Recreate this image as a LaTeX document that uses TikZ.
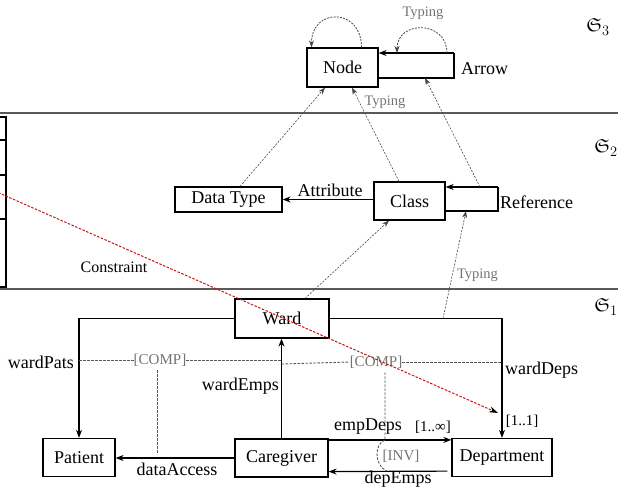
\documentclass[tikz,border=0pt]{standalone}
\usepackage{fontspec}
\setmainfont{Liberation Serif}
\usepackage{amssymb}
\usetikzlibrary{arrows.meta}

\definecolor{sepgray}{RGB}{90,90,90}
\definecolor{labgray}{RGB}{115,115,115}
\definecolor{typgray}{RGB}{70,70,70}
\definecolor{conred}{RGB}{200,20,20}

\tikzset{
  box/.style={draw, line width=1.2pt, inner sep=0pt, font=\fontsize{18}{20}\selectfont},
  lbl/.style={inner sep=0pt, font=\fontsize{18}{20}\selectfont},
  smalllbl/.style={inner sep=0pt, font=\fontsize{16}{18}\selectfont},
  mult/.style={inner sep=0pt, font=\fontsize{15}{17}\selectfont},
  graylbl/.style={inner sep=0pt, text=labgray, font=\fontsize{15}{17}\selectfont},
  typlbl/.style={inner sep=0pt, text=labgray, font=\fontsize{14.5}{16}\selectfont},
  lvl/.style={inner sep=0pt, font=\fontsize{19}{22}\selectfont},
  rel/.style={line width=1.2pt, -{Stealth[length=8pt,width=6pt]}},
  edgeline/.style={line width=1.5pt},
  edgerel/.style={line width=1.5pt, -{Stealth[length=8pt,width=6pt]}},
  typing/.style={line width=0.6pt, draw=typgray, dash pattern=on 2pt off 1.4pt,
                 -{Stealth[length=7pt,width=5pt]}},
  selfloop/.style={line width=0.8pt, draw=typgray, dash pattern=on 2pt off 1.2pt,
                   -{Stealth[length=7pt,width=5pt]}},
  compline/.style={line width=0.9pt, draw=black!65, dash pattern=on 2.5pt off 1.5pt},
  constraint/.style={line width=1pt, draw=conred, dash pattern=on 2.5pt off 1.5pt,
                     -{Stealth[length=9pt,width=6pt,color=black]}},
  layersep/.style={line width=2pt, draw=sepgray}
}

\begin{document}
\begin{tikzpicture}[x=1pt,y=-1pt]
\useasboundingbox (0,0) rectangle (618,489);

% layer separators
\draw[layersep] (0,113) -- (618,113);
\draw[layersep] (0,289) -- (618,289);

% layer names
\node[lvl] (s3) at (598,27) {$\mathfrak{S}_3$};
\node[lvl] (s2) at (606,148) {$\mathfrak{S}_2$};
\node[lvl] (s1) at (606,307) {$\mathfrak{S}_1$};

% ---------- top layer ----------
\node[box, minimum width=71, minimum height=39] (node) at (342.5,67.5) {Node};
\coordinate (arrNE) at (454,53);
\coordinate (arrSE) at (454,78);
\draw[edgeline] (node.east |- arrSE) -- (arrSE) -- (arrNE);
\draw[edgerel] (arrNE) -- (node.east |- arrNE);
\node[lbl, anchor=west] (arrowlbl) at (461,69) {Arrow};

\draw[selfloop] ([xshift=19]node.north) .. controls +(0,-40) and +(0,-40) .. ([xshift=-31]node.north);
\draw[selfloop] ([xshift=-7]arrNE) .. controls +(0,-33) and +(0,-33) .. ([xshift=-57]arrNE);
\node[typlbl] (typ3) at (423,13.5) {Typing};

% ---------- middle layer ----------
\node[box, minimum width=107, minimum height=25] (dtype) at (228.5,199.5) {Data Type};
\node[box, minimum width=71, minimum height=38] (class) at (409.5,201) {Class};
\coordinate (refNE) at (498,187);
\coordinate (refSE) at (498,211);
\draw[edgeline] (class.east |- refSE) -- (refSE) -- (refNE);
\draw[edgerel] (refNE) -- (class.east |- refNE);
\node[lbl, anchor=west] (reflbl) at (500,202) {Reference};

\draw[rel] (class.west |- dtype.east) -- (dtype.east);
\node[lbl] (attrlbl) at (330,190) {Attribute};

% typing of the middle layer
\draw[typing] ([xshift=11.5]dtype.north) -- ([xshift=-17.5]node.south);
\draw[typing] ([xshift=-10.5]class.north) -- ([xshift=9.5]node.south);
\draw[typing] ([xshift=-18]refNE) -- ([xshift=-29]arrSE);
\node[typlbl] (typ2) at (385,102) {Typing};

% constraint table at the left border
\node[draw, line width=1.2pt, minimum width=70, minimum height=170, inner sep=0pt] (ctab) at (-29,202) {};
\draw[line width=1.2pt] (ctab.west |- 0,140) -- (ctab.east |- 0,140);
\draw[line width=1.2pt] (ctab.west |- 0,175) -- (ctab.east |- 0,175);
\draw[line width=1.2pt] (ctab.west |- 0,219) -- (ctab.east |- 0,219);
\node[smalllbl] (conlbl) at (114,267) {Constraint};

% ---------- bottom layer ----------
\node[box, minimum width=94, minimum height=39] (ward) at (282,318.5) {Ward};
\node[box, minimum width=72, minimum height=38] (patient) at (79,457.5) {Patient};
\node[box, minimum width=93, minimum height=38] (caregiver) at (281.5,458) {Caregiver};
\node[box, minimum width=100, minimum height=38] (department) at (502,457.5) {Department};

\draw[rel] (ward.west) -| (patient.north);
\draw[rel] (ward.east) -| (department.north);
\draw[rel] (caregiver.north) -- (caregiver.north |- ward.south);
\draw[rel] (caregiver.west) -- (caregiver.west -| patient.east);
\draw[rel] ([yshift=-1.5]caregiver.north east) -- ([yshift=-1.5]caregiver.north east -| department.west);
\draw[rel] ([xshift=-4,yshift=6]department.south west) -- ([yshift=6]caregiver.south east);

\node[lbl, anchor=east] (wpats) at (74,362) {wardPats};
\node[lbl, anchor=east] (wemps) at (279,386) {wardEmps};
\node[lbl, anchor=west] (wdeps) at (505,370) {wardDeps};
\node[lbl] (daccess) at (177,469) {dataAccess};
\node[lbl] (edeps) at (368,427) {empDeps};
\node[lbl] (demps) at (398,479) {depEmps};
\node[mult] (multinf) at (433,427) {[1..∞]};
\node[mult] (multone) at (522,421) {[1..1]};

% composition and inverse constraints
\node[graylbl] (comp1) at (160,360) {[COMP]};
\node[graylbl] (comp2) at (376,362) {[COMP]};
\node[graylbl] (inv) at (401,456) {[INV]};
\draw[compline] (patient.north |- comp1) -- (comp1.west);
\draw[compline] (comp1.east) -- (caregiver.north |- comp1);
\draw[compline] ([xshift=-3,yshift=-4]comp1.south) -- ([xshift=-3]comp1.south |- 0,453);
\draw[compline] (caregiver.north |- 0,364) -- (comp2.west);
\draw[compline] (comp2.east) -- (department.north |- comp2);
\coordinate (invtop) at (385,440);
\coordinate (invbot) at (387,471);
\draw[compline] ([xshift=9,yshift=-4]comp2.south) -- (invtop) .. controls (374,444) and (374,466) .. (invbot);

% typing of the bottom layer
\draw[typing] ([xshift=23]ward.north) -- ([xshift=-20.5]class.south);
\coordinate (wdepsbend) at (443,318.5);
\draw[typing] (wdepsbend) -- ([xshift=-32]refSE);
\node[typlbl] (typ1) at (477.5,275) {Typing};

% constraint arrow
\coordinate (cstart) at (-20,184.6);
\coordinate (cend) at (498,413);
\draw[constraint] (cstart) -- (cend);

\end{tikzpicture}
\end{document}
